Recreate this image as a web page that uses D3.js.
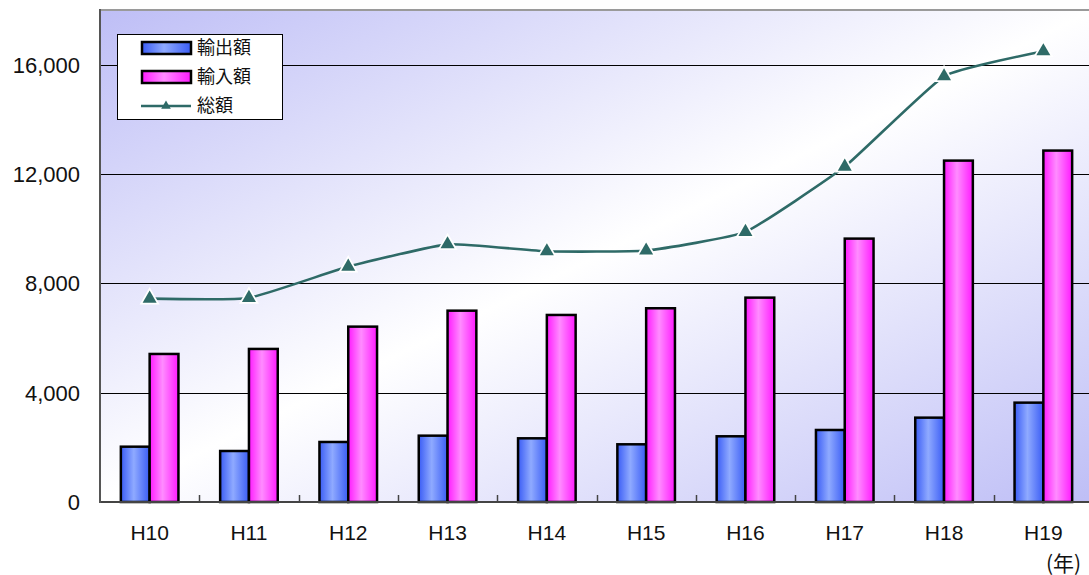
<!DOCTYPE html>
<meta charset="utf-8">
<style>
body { margin: 0; background: #fff; }
text { font-family: "Liberation Sans", Arial, sans-serif; fill: #111; }
.jp { font-family: "Noto Sans CJK JP", sans-serif; }
</style>
<body>
<script src="https://cdn.jsdelivr.net/npm/d3@7"></script>
<script>

// data
var years = ["H10", "H11", "H12", "H13", "H14", "H15", "H16", "H17", "H18", "H19"];
var exportVals = [2024, 1866, 2196, 2427, 2330, 2111, 2404, 2635, 3086, 3635];
var importVals = [5416, 5600, 6416, 7000, 6843, 7088, 7477, 9636, 12490, 12857];
var totalVals = [7440, 7466, 8612, 9427, 9173, 9199, 9881, 12271, 15576, 16492];
var yTicks = [0, 4000, 8000, 12000, 16000];
var legendNames = ["輸出額", "輸入額", "総額"];

var W = 1089, H = 575;
var plotL = 100, plotT = 10, plotB = 502, plotR = 1093;

var svg = d3.select("body").append("svg")
    .attr("width", W)
    .attr("height", H);

var defs = svg.append("defs");

// plot background: lavender corners, white diagonal
var bg = defs.append("linearGradient").attr("id", "bg")
    .attr("x1", 0).attr("y1", 0).attr("x2", 1).attr("y2", 1);
bg.append("stop").attr("offset", "0%").attr("stop-color", "#bebef6");
bg.append("stop").attr("offset", "50%").attr("stop-color", "#ffffff");
bg.append("stop").attr("offset", "100%").attr("stop-color", "#bebef6");

function barGrad(id, edge, mid) {
  var g = defs.append("linearGradient").attr("id", id)
      .attr("x1", 0).attr("y1", 0).attr("x2", 1).attr("y2", 0);
  g.append("stop").attr("offset", "0%").attr("stop-color", edge);
  g.append("stop").attr("offset", "45%").attr("stop-color", mid);
  g.append("stop").attr("offset", "100%").attr("stop-color", edge);
}
barGrad("gBlue", "#3a5cf5", "#8faaff");
barGrad("gPink", "#ff1aff", "#ff8cff");

// scales
var x = d3.scaleBand().domain(years).range([plotL, plotR]).padding(0);
var y = d3.scaleLinear().domain([0, 18000]).range([plotB, plotT]);
var bw = x.bandwidth() * 0.29;
function cx(i) { return x(years[i]) + x.bandwidth() / 2; }

var plot = svg.append("g");

plot.append("rect")
    .attr("x", plotL).attr("y", plotT)
    .attr("width", plotR - plotL).attr("height", plotB - plotT)
    .attr("fill", "url(#bg)");

// top border
plot.append("line")
    .attr("x1", plotL).attr("x2", plotR)
    .attr("y1", plotT).attr("y2", plotT)
    .attr("stroke", "#9a9a9a").attr("stroke-width", 2);

// gridlines
plot.selectAll(".grid")
    .data(yTicks.filter(function(d) { return d > 0; }))
  .enter().append("line")
    .attr("x1", plotL).attr("x2", plotR)
    .attr("y1", function(d) { return Math.round(y(d)) + 0.5; })
    .attr("y2", function(d) { return Math.round(y(d)) + 0.5; })
    .attr("stroke", "#000").attr("stroke-width", 1);

// bars
plot.selectAll(".exp")
    .data(exportVals)
  .enter().append("rect")
    .attr("x", function(d, i) { return cx(i) - bw; })
    .attr("y", function(d) { return y(d); })
    .attr("width", bw)
    .attr("height", function(d) { return plotB - y(d); })
    .attr("fill", "url(#gBlue)")
    .attr("stroke", "#000").attr("stroke-width", 2.5);

plot.selectAll(".imp")
    .data(importVals)
  .enter().append("rect")
    .attr("x", function(d, i) { return cx(i); })
    .attr("y", function(d) { return y(d); })
    .attr("width", bw)
    .attr("height", function(d) { return plotB - y(d); })
    .attr("fill", "url(#gPink)")
    .attr("stroke", "#000").attr("stroke-width", 2.5);

// total line (gentle smoothing)
var line = d3.line()
    .x(function(d, i) { return cx(i); })
    .y(function(d) { return y(d); })
    .curve(d3.curveCardinal.tension(0.6));

plot.append("path")
    .datum(totalVals)
    .attr("d", line)
    .attr("fill", "none")
    .attr("stroke", "#2e6a67")
    .attr("stroke-width", 2.6);

var tri = d3.symbol().type(d3.symbolTriangle).size(85);
plot.selectAll(".mk")
    .data(totalVals)
  .enter().append("path")
    .attr("d", tri)
    .attr("transform", function(d, i) {
      return "translate(" + cx(i) + "," + y(d) + ")";
    })
    .attr("fill", "#2e6a67")
    .attr("stroke", "#fff").attr("stroke-width", 3.5)
    .attr("paint-order", "stroke");

// axes lines
svg.append("line")
    .attr("x1", plotL).attr("x2", plotL)
    .attr("y1", plotT - 1).attr("y2", plotB + 1)
    .attr("stroke", "#555").attr("stroke-width", 2);
plot.append("line")
    .attr("x1", plotL).attr("x2", plotR)
    .attr("y1", plotB).attr("y2", plotB)
    .attr("stroke", "#444").attr("stroke-width", 2);

// category boundary ticks, pointing up
plot.selectAll(".ctick")
    .data(years.slice(1))
  .enter().append("line")
    .attr("x1", function(d) { return Math.round(x(d)) + 0.5; })
    .attr("x2", function(d) { return Math.round(x(d)) + 0.5; })
    .attr("y1", plotB - 7).attr("y2", plotB)
    .attr("stroke", "#444").attr("stroke-width", 1.5);

// y labels
svg.selectAll(".ylab")
    .data(yTicks)
  .enter().append("text")
    .attr("x", 80)
    .attr("y", function(d) { return y(d); })
    .attr("dy", "0.36em")
    .attr("text-anchor", "end")
    .style("font-size", "22px")
    .text(function(d) { return d3.format(",")(d); });

// x labels
svg.selectAll(".xlab")
    .data(years)
  .enter().append("text")
    .attr("x", function(d) { return x(d) + x.bandwidth() / 2; })
    .attr("y", 540)
    .attr("text-anchor", "middle")
    .style("font-size", "21px")
    .text(function(d) { return d; });

svg.append("text")
    .attr("class", "jp")
    .attr("x", 1046)
    .attr("y", 571)
    .style("font-size", "21px")
    .text("(年)");

// legend
var lg = svg.append("g");
lg.append("rect")
    .attr("x", 117.5).attr("y", 34.5)
    .attr("width", 165).attr("height", 85)
    .attr("fill", "#fff").attr("stroke", "#000").attr("stroke-width", 1);

var fills = ["url(#gBlue)", "url(#gPink)"];
var rowY = [48, 77, 106];
fills.forEach(function(f, i) {
  lg.append("rect")
      .attr("x", 142).attr("y", rowY[i] - 6)
      .attr("width", 49).attr("height", 12)
      .attr("fill", f)
      .attr("stroke", "#000").attr("stroke-width", 2.5);
});
lg.append("line")
    .attr("x1", 141).attr("x2", 191)
    .attr("y1", rowY[2]).attr("y2", rowY[2])
    .attr("stroke", "#2e6a67").attr("stroke-width", 2.6);
lg.append("path")
    .attr("d", d3.symbol().type(d3.symbolTriangle).size(40))
    .attr("transform", "translate(166," + rowY[2] + ")")
    .attr("fill", "#2e6a67");

lg.selectAll(".lt")
    .data(legendNames)
  .enter().append("text")
    .attr("class", "jp")
    .attr("x", 197)
    .attr("y", function(d, i) { return rowY[i]; })
    .attr("dy", "0.36em")
    .style("font-size", "18px")
    .text(function(d) { return d; });

</script>
</body>
